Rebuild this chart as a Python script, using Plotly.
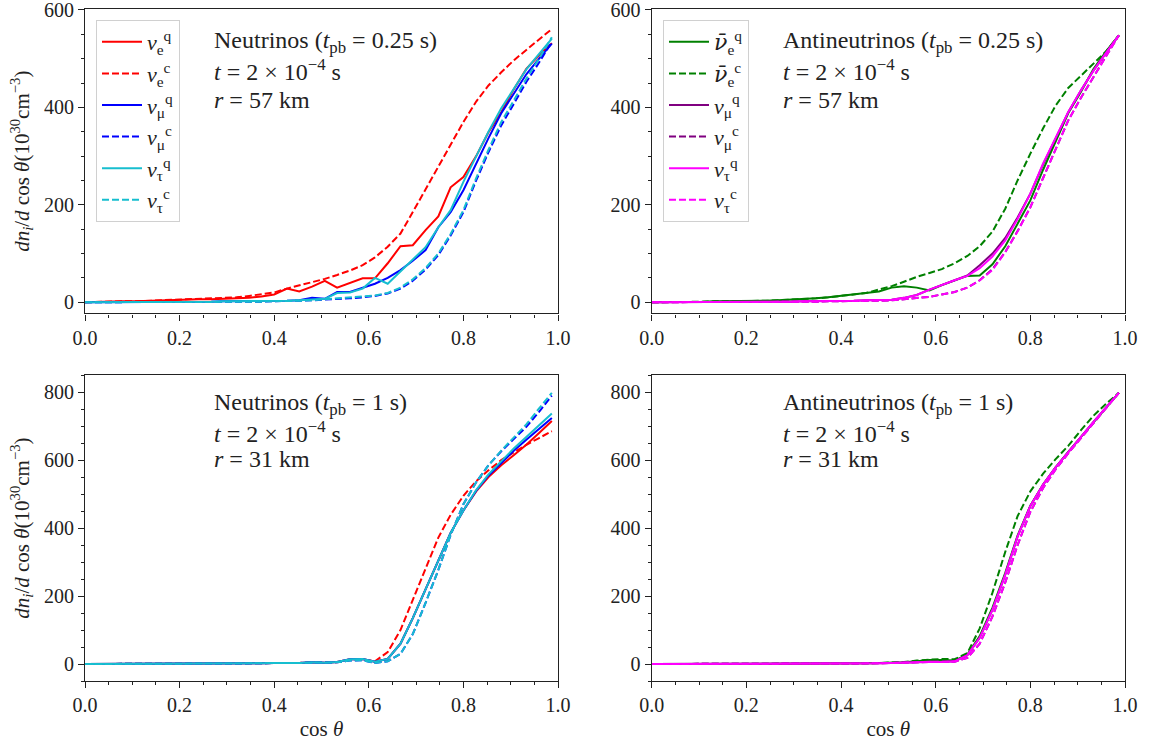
import plotly.graph_objects as go

# cos(theta) grid
cos_theta = [0.000, 0.027, 0.053, 0.080, 0.107, 0.133, 0.160, 0.187, 0.213, 0.240,
             0.267, 0.293, 0.320, 0.347, 0.373, 0.400, 0.427, 0.453, 0.480, 0.507,
             0.533, 0.560, 0.587, 0.613, 0.640, 0.667, 0.693, 0.720, 0.747, 0.773,
             0.800, 0.827, 0.853, 0.880, 0.907, 0.933, 0.960, 0.987]

# ---- Panel A: Neutrinos (t_pb = 0.25 s), r = 57 km
a_nue_q = [0, 1, 1, 2, 2, 3, 4, 4, 5, 6, 6, 7, 8, 9, 12, 16, 28, 22, 32, 44,
           30, 40, 49, 49, 80, 115, 117, 148, 176, 236, 257, 300, 349, 390, 438, 479, 507, 532]
a_nue_c = [0, 1, 1, 2, 2, 3, 3, 4, 5, 6, 7, 8, 10, 13, 16, 20, 28, 34, 41, 48,
           56, 65, 76, 92, 114, 141, 185, 232, 277, 322, 370, 412, 445, 472, 497, 518, 540, 561]
a_num_q = [0, 0, 0, 1, 1, 1, 1, 1, 1, 1, 1, 2, 2, 2, 2, 3, 3, 4, 9, 7,
           21, 21, 30, 38, 50, 66, 85, 107, 154, 185, 230, 285, 337, 388, 428, 468, 500, 531]
a_num_c = [0, 0, 0, 0, 0, 0, 0, 1, 1, 1, 1, 1, 1, 1, 1, 2, 2, 3, 4, 5,
           7, 8, 10, 13, 18, 28, 44, 67, 97, 137, 185, 250, 308, 363, 408, 452, 492, 535]
a_nut_q = [0, 0, 0, 1, 1, 1, 1, 1, 1, 1, 1, 2, 2, 2, 2, 3, 3, 4, 5, 7,
           19, 20, 28, 50, 38, 64, 88, 113, 154, 189, 247, 300, 350, 398, 440, 478, 510, 541]
a_nut_c = [0, 0, 0, 0, 0, 0, 0, 1, 1, 1, 1, 1, 1, 1, 1, 2, 2, 3, 4, 6,
           7, 9, 11, 14, 19, 30, 47, 70, 100, 140, 189, 255, 313, 370, 415, 459, 500, 544]

# ---- Panel B: Antineutrinos (t_pb = 0.25 s), r = 57 km
b_nue_q = [0, 0, 1, 1, 1, 2, 2, 2, 3, 3, 4, 5, 6, 8, 10, 13, 16, 19, 22, 30,
           33, 30, 24, 35, 45, 54, 55, 78, 115, 160, 209, 272, 328, 388, 432, 478, 515, 548]
b_nue_c = [0, 0, 1, 1, 1, 2, 2, 2, 3, 3, 4, 5, 6, 8, 10, 13, 16, 19, 26, 33,
           42, 52, 60, 68, 80, 95, 115, 145, 192, 250, 305, 357, 403, 440, 465, 490, 515, 548]
b_num_q = [0, 0, 0, 0, 1, 1, 1, 1, 1, 1, 1, 1, 2, 2, 2, 3, 3, 4, 4, 5,
           9, 15, 26, 36, 45, 55, 76, 100, 132, 174, 223, 283, 337, 390, 435, 475, 512, 548]
b_num_c = [0, 0, 0, 0, 0, 0, 0, 1, 1, 1, 1, 1, 1, 1, 2, 2, 2, 3, 3, 4,
           6, 8, 11, 16, 21, 30, 45, 68, 103, 146, 195, 255, 313, 373, 420, 463, 505, 548]
b_nut_q = [0, 0, 0, 0, 1, 1, 1, 1, 1, 1, 1, 1, 2, 2, 2, 3, 3, 4, 4, 5,
           9, 15, 26, 36, 45, 54, 70, 94, 127, 171, 223, 285, 337, 390, 435, 475, 512, 548]
b_nut_c = [0, 0, 0, 0, 0, 0, 0, 1, 1, 1, 1, 1, 1, 1, 2, 2, 2, 3, 3, 4,
           6, 8, 11, 16, 21, 30, 45, 66, 103, 145, 195, 255, 313, 373, 420, 463, 505, 548]

# ---- Panel C: Neutrinos (t_pb = 1 s), r = 31 km
c_nue_q = [0, 0, 0, 0, 0, 0, 0, 0, 0, 0, 1, 1, 1, 1, 2, 3, 2, 3, 5, 4,
           6, 14, 15, 7, 15, 60, 135, 220, 308, 386, 452, 508, 550, 585, 615, 645, 680, 715]
c_nue_c = [0, 0, 0, 0, 0, 0, 0, 0, 0, 0, 1, 1, 1, 1, 2, 3, 2, 3, 5, 4,
           5, 12, 13, 8, 35, 100, 188, 280, 372, 439, 495, 538, 570, 600, 624, 645, 665, 685]
c_num_q = [0, 0, 0, 0, 0, 0, 0, 0, 0, 0, 1, 1, 1, 1, 2, 3, 2, 3, 5, 4,
           6, 14, 15, 7, 15, 60, 135, 220, 308, 386, 452, 510, 555, 592, 628, 660, 692, 724]
c_num_c = [0, 0, 0, 0, 0, 0, 0, 0, 0, 0, 1, 1, 1, 1, 2, 3, 2, 3, 4, 4,
           5, 10, 11, 3, 8, 30, 88, 180, 277, 380, 470, 535, 585, 626, 662, 698, 742, 790]
c_nut_q = [0, 0, 0, 0, 0, 0, 0, 0, 0, 0, 1, 1, 1, 1, 2, 3, 2, 3, 5, 4,
           6, 14, 15, 7, 15, 60, 135, 220, 308, 386, 452, 512, 558, 597, 635, 668, 703, 737]
c_nut_c = [0, 0, 0, 0, 0, 0, 0, 0, 0, 0, 1, 1, 1, 1, 2, 3, 2, 3, 4, 4,
           5, 10, 11, 3, 8, 30, 88, 180, 277, 380, 470, 535, 585, 628, 666, 705, 752, 798]

# ---- Panel D: Antineutrinos (t_pb = 1 s), r = 31 km
d_nue_q = [0, 0, 0, 0, 0, 0, 0, 0, 0, 0, 0, 1, 1, 1, 1, 2, 2, 2, 3, 3,
           5, 8, 12, 12, 10, 28, 82, 166, 268, 378, 466, 528, 578, 624, 668, 712, 755, 798]
d_nue_c = [0, 0, 0, 0, 0, 0, 0, 0, 0, 0, 0, 1, 1, 1, 1, 2, 2, 2, 3, 4,
           6, 10, 13, 15, 14, 32, 105, 210, 330, 435, 508, 560, 602, 642, 688, 730, 766, 798]
d_num_q = [0, 0, 0, 0, 0, 0, 0, 0, 0, 0, 0, 1, 1, 1, 1, 2, 2, 2, 2, 3,
           3, 5, 7, 6, 8, 26, 77, 160, 263, 375, 465, 528, 578, 624, 668, 712, 755, 798]
d_num_c = [0, 0, 0, 0, 0, 0, 0, 0, 0, 0, 0, 1, 1, 1, 1, 2, 2, 2, 2, 3,
           3, 5, 6, 6, 7, 18, 60, 140, 240, 350, 448, 518, 572, 620, 665, 710, 754, 798]
d_nut_q = [0, 0, 0, 0, 0, 0, 0, 0, 0, 0, 0, 1, 1, 1, 1, 2, 2, 2, 2, 3,
           3, 5, 7, 6, 8, 26, 77, 160, 263, 375, 465, 528, 578, 624, 668, 712, 755, 798]
d_nut_c = [0, 0, 0, 0, 0, 0, 0, 1, 1, 1, 1, 1, 1, 1, 1, 2, 2, 2, 2, 3,
           3, 5, 6, 6, 7, 18, 60, 140, 240, 350, 448, 518, 572, 620, 665, 710, 754, 798]

NU = "<i>ν</i>"
NUBAR = "<span style='font-family:DejaVu Serif'><i>ν̄</i></span>"
labels_nu = [NU + "<sub>e</sub><sup>q</sup>", NU + "<sub>e</sub><sup>c</sup>",
             NU + "<sub>μ</sub><sup>q</sup>", NU + "<sub>μ</sub><sup>c</sup>",
             NU + "<sub>τ</sub><sup>q</sup>", NU + "<sub>τ</sub><sup>c</sup>"]
labels_anu = [NUBAR + "<sub>e</sub><sup>q</sup>", NUBAR + "<sub>e</sub><sup>c</sup>",
              NU + "<sub>μ</sub><sup>q</sup>", NU + "<sub>μ</sub><sup>c</sup>",
              NU + "<sub>τ</sub><sup>q</sup>", NU + "<sub>τ</sub><sup>c</sup>"]
colors_nu = ["#ff0000", "#ff0000", "#0000ff", "#0000ff", "#17becf", "#17becf"]
colors_anu = ["#008000", "#008000", "#800080", "#800080", "#ff00ff", "#ff00ff"]
dashes = ["solid", "7px,3px", "solid", "7px,3px", "solid", "7px,3px"]

panels = [
    ("x", "y", [a_nue_q, a_nue_c, a_num_q, a_num_c, a_nut_q, a_nut_c], labels_nu, colors_nu, "legend"),
    ("x2", "y2", [b_nue_q, b_nue_c, b_num_q, b_num_c, b_nut_q, b_nut_c], labels_anu, colors_anu, "legend2"),
    ("x3", "y3", [c_nue_q, c_nue_c, c_num_q, c_num_c, c_nut_q, c_nut_c], labels_nu, colors_nu, None),
    ("x4", "y4", [d_nue_q, d_nue_c, d_num_q, d_num_c, d_nut_q, d_nut_c], labels_anu, colors_anu, None),
]

FONT = "Liberation Serif"
INK = "#222"
fig = go.Figure()
for xa, ya, series, labs, cols, leg in panels:
    for s, lab, col, dsh in zip(series, labs, cols, dashes):
        kw = dict(legend=leg, showlegend=True) if leg else dict(showlegend=False)
        fig.add_trace(go.Scatter(x=cos_theta, y=s, xaxis=xa, yaxis=ya, mode="lines",
                                 name=lab, line=dict(color=col, width=2, dash=dsh), **kw))

W, H = 1153, 747
L, T = 85, 9
R, B = W - 1125, H - 680.7
pw, ph = W - L - R, H - T - B

def px_x(px):
    return (px - L) / pw

def px_y(py):
    return 1 - (py - T) / ph

xd1 = [0, px_x(558)]
xd2 = [px_x(651.7), 1]
yd_top = [px_y(313.3), 1]
yd_bot = [0, px_y(375)]

def xaxis(domain, anchor, title=None):
    d = dict(domain=domain, anchor=anchor, range=[0, 1], tickvals=[0, 0.2, 0.4, 0.6, 0.8, 1.0],
             tickformat=".1f", ticks="outside", ticklen=6, tickwidth=1, tickcolor=INK,
             showline=True, linecolor=INK, linewidth=1.2, mirror=True, showgrid=False,
             zeroline=False, automargin=False, ticklabeloverflow="allow",
             tickfont=dict(family=FONT, size=20, color=INK),
             minor=dict(dtick=0.05, ticks="outside", ticklen=3, tickwidth=0.8, tickcolor=INK))
    if title:
        d["title"] = dict(text=title, font=dict(family=FONT, size=21, color=INK), standoff=6)
    return d

def yaxis(domain, anchor, rng, tv, title=None):
    d = dict(domain=domain, anchor=anchor, range=rng, tickvals=tv,
             ticks="outside", ticklen=6, tickwidth=1, tickcolor=INK,
             showline=True, linecolor=INK, linewidth=1.2, mirror=True, showgrid=False,
             zeroline=False, automargin=False, ticklabeloverflow="allow",
             tickfont=dict(family=FONT, size=20, color=INK),
             minor=dict(dtick=50, ticks="outside", ticklen=3, tickwidth=0.8, tickcolor=INK))
    if title:
        d["title"] = dict(text=title, font=dict(family=FONT, size=21, color=INK), standoff=8)
    return d

ytitle = "<i>dn<sub>i</sub></i>/<i>d</i> cos <i>θ</i>(10<sup>30</sup>cm<sup>−3</sup>)"
xtitle = "cos <i>θ</i>"

legend_common = dict(bgcolor="rgba(255,255,255,0.85)", bordercolor="#d0d0d0", borderwidth=1,
                     font=dict(family=FONT, size=22, color=INK), xanchor="left", yanchor="top",
                     tracegroupgap=0, itemwidth=40)

fig.update_layout(
    width=W, height=H, margin=dict(l=L, r=R, t=T, b=B, autoexpand=False),
    paper_bgcolor="white", plot_bgcolor="white",
    xaxis=xaxis(xd1, "y"), yaxis=yaxis(yd_top, "x", [-23, 602], [0, 200, 400, 600], ytitle),
    xaxis2=xaxis(xd2, "y2"), yaxis2=yaxis(yd_top, "x2", [-23, 602], [0, 200, 400, 600]),
    xaxis3=xaxis(xd1, "y3", xtitle), yaxis3=yaxis(yd_bot, "x3", [-50, 850], [0, 200, 400, 600, 800], ytitle),
    xaxis4=xaxis(xd2, "y4", xtitle), yaxis4=yaxis(yd_bot, "x4", [-50, 850], [0, 200, 400, 600, 800]),
    legend=dict(x=px_x(96), y=px_y(20), **legend_common),
    legend2=dict(x=px_x(663), y=px_y(20), **legend_common),
)

texts = [
    ("x", "y", 0.269, ["Neutrinos (<i>t</i><sub>pb</sub> = 0.25 s)", "<i>t</i> = 2 × 10<sup>−4</sup> s", "<i>r</i> = 57 km"], [0.8916, 0.7995, 0.7009]),
    ("x2", "y2", 0.2726, ["Antineutrinos (<i>t</i><sub>pb</sub> = 0.25 s)", "<i>t</i> = 2 × 10<sup>−4</sup> s", "<i>r</i> = 57 km"], [0.8916, 0.7995, 0.7009]),
    ("x3", "y3", 0.269, ["Neutrinos (<i>t</i><sub>pb</sub> = 1 s)", "<i>t</i> = 2 × 10<sup>−4</sup> s", "<i>r</i> = 31 km"], [0.905, 0.814, 0.725]),
    ("x4", "y4", 0.2726, ["Antineutrinos (<i>t</i><sub>pb</sub> = 1 s)", "<i>t</i> = 2 × 10<sup>−4</sup> s", "<i>r</i> = 31 km"], [0.905, 0.814, 0.725]),
]
for xa, ya, xpos, lines, ys in texts:
    for txt, yy in zip(lines, ys):
        fig.add_annotation(x=xpos, y=yy, xref=xa + " domain", yref=ya + " domain",
                           text=txt, showarrow=False, xanchor="left", yanchor="middle",
                           font=dict(family=FONT, size=24, color=INK))

# remove the browser's default 8px body margin so the figure sits at the page origin
fig.write_html("out.html", config={"displayModeBar": False},
               post_script="document.body.style.margin='0';")
